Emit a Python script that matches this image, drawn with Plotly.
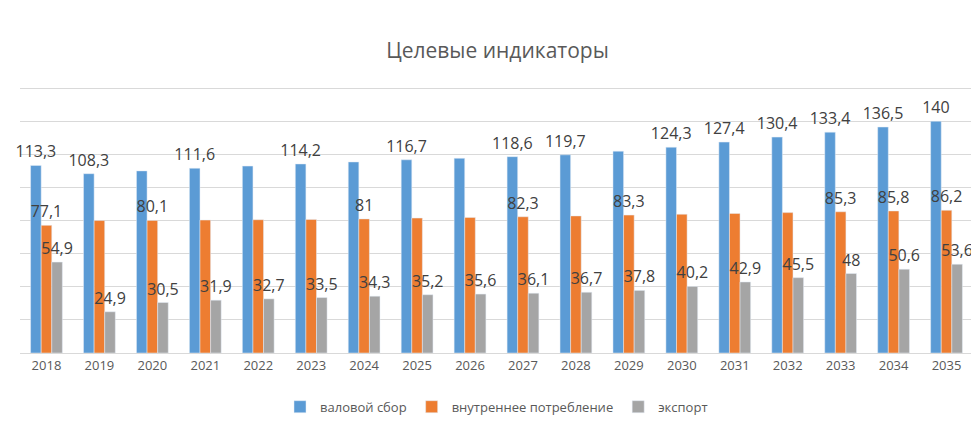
import plotly.graph_objects as go

years = [str(y) for y in range(2018, 2036)]
gross = [113.3, 108.3, 110.0, 111.6, 112.9, 114.2, 115.4, 116.7, 117.6, 118.6, 119.7, 121.9,
         124.3, 127.4, 130.4, 133.4, 136.5, 140]
domestic = [77.1, 80.0, 80.1, 80.3, 80.5, 80.7, 81, 81.5, 81.9, 82.3, 82.8, 83.3,
            83.8, 84.3, 84.8, 85.3, 85.8, 86.2]
export = [54.9, 24.9, 30.5, 31.9, 32.7, 33.5, 34.3, 35.2, 35.6, 36.1, 36.7, 37.8,
          40.2, 42.9, 45.5, 48, 50.6, 53.6]

# which labels are visible in the original
gross_show = [1, 1, 0, 1, 0, 1, 0, 1, 0, 1, 1, 0, 1, 1, 1, 1, 1, 1]
dom_show = [1, 0, 1, 0, 0, 0, 1, 0, 0, 1, 0, 1, 0, 0, 0, 1, 1, 1]


def fmt(v):
    return ("%g" % v).replace(".", ",")


def labels(vals, show=None):
    return [fmt(v) if (show is None or s) else "" for v, s in zip(vals, show or [1] * len(vals))]


series = [
    ("валовой сбор", gross, "#5B9BD5", labels(gross, gross_show)),
    ("внутреннее потребление", domestic, "#ED7D31", labels(domestic, dom_show)),
    ("экспорт", export, "#A5A5A5", labels(export)),
]

fig = go.Figure()
for name, vals, color, txt in series:
    fig.add_trace(go.Bar(
        x=years, y=vals, name=name, marker_color=color,
        text=txt, textposition="outside", cliponaxis=False, constraintext="none",
        textfont=dict(size=16, color="#404040"),
    ))

fig.update_layout(
    width=979, height=444,
    paper_bgcolor="white", plot_bgcolor="white",
    font=dict(family="Open Sans, Noto Sans, sans-serif", color="#595959"),
    title=dict(text="Целевые индикаторы", x=0.5, y=0.92, xanchor="center",
               font=dict(size=21, color="#595959")),
    barmode="group", bargap=0.4, bargroupgap=0,
    margin=dict(l=12, r=14, t=47, b=99),
    showlegend=True,
    legend=dict(orientation="h", x=0.5, xanchor="center", y=-0.13, yanchor="top",
                font=dict(size=13, color="#595959")),
    xaxis=dict(showline=True, linecolor="#d9d9d9", tickfont=dict(size=13, color="#595959")),
    yaxis=dict(range=[0, 180], dtick=20, showticklabels=False,
               gridcolor="#d9d9d9", zeroline=False),
)

fig.write_html("out.html")
